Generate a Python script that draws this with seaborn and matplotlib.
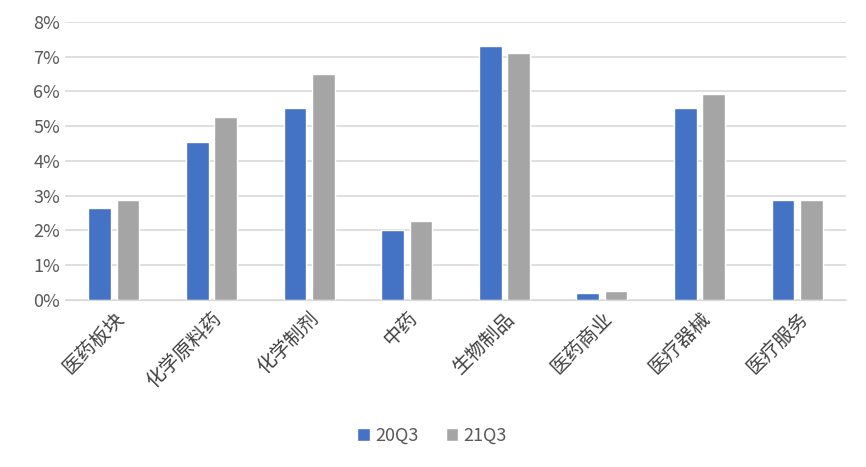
import seaborn as sns
import matplotlib.pyplot as plt
import pandas as pd
from matplotlib.ticker import FuncFormatter

# ----------- DATA -----------
categories = ["医药板块", "化学原料药", "化学制剂", "中药", "生物制品", "医药商业", "医疗器械", "医疗服务"]
q20 = [2.64, 4.55, 5.52, 2.01, 7.32, 0.20, 5.52, 2.86]
q21 = [2.87, 5.25, 6.50, 2.27, 7.10, 0.25, 5.93, 2.86]
series = ["20Q3", "21Q3"]

df = pd.DataFrame({
    "cat": categories * 2,
    "val": q20 + q21,
    "series": [series[0]] * len(categories) + [series[1]] * len(categories),
})

sns.set_style("white")
plt.rcParams["font.family"] = ["Noto Sans CJK SC", "DejaVu Sans"]

fig = plt.figure(figsize=(8.66, 4.67), dpi=100)
ax = fig.add_axes([0.075, 0.358, 0.902, 0.595])

sns.barplot(
    data=df, x="cat", y="val", hue="series",
    palette=["#4472C4", "#A5A5A5"], width=0.58, gap=0.2,
    order=categories, hue_order=series, ax=ax, saturation=1,
)

ax.set_ylim(0, 8)
ax.set_yticks(range(0, 9))
ax.yaxis.set_major_formatter(FuncFormatter(lambda v, p: f"{v:.0f}%"))
ax.grid(axis="y", color="#D9D9D9", linewidth=1.2)
ax.set_axisbelow(True)
for s in ["top", "right", "left"]:
    ax.spines[s].set_visible(False)
ax.spines["bottom"].set_color("#D9D9D9")
ax.set_xlabel("")
ax.set_ylabel("")
ax.tick_params(axis="y", labelsize=13, labelcolor="#595959", length=0)
ax.tick_params(axis="x", labelsize=14, labelcolor="#404040", length=0, pad=6)
plt.setp(ax.get_xticklabels(), rotation=45, ha="right", rotation_mode="anchor")

ax.legend(
    loc="center", bbox_to_anchor=(0.47, -0.49), ncol=2, frameon=False,
    fontsize=13, handlelength=0.7, handleheight=0.7, handletextpad=0.3,
    columnspacing=1.5, labelcolor="#595959",
)

fig.savefig("out.png", dpi=100)
